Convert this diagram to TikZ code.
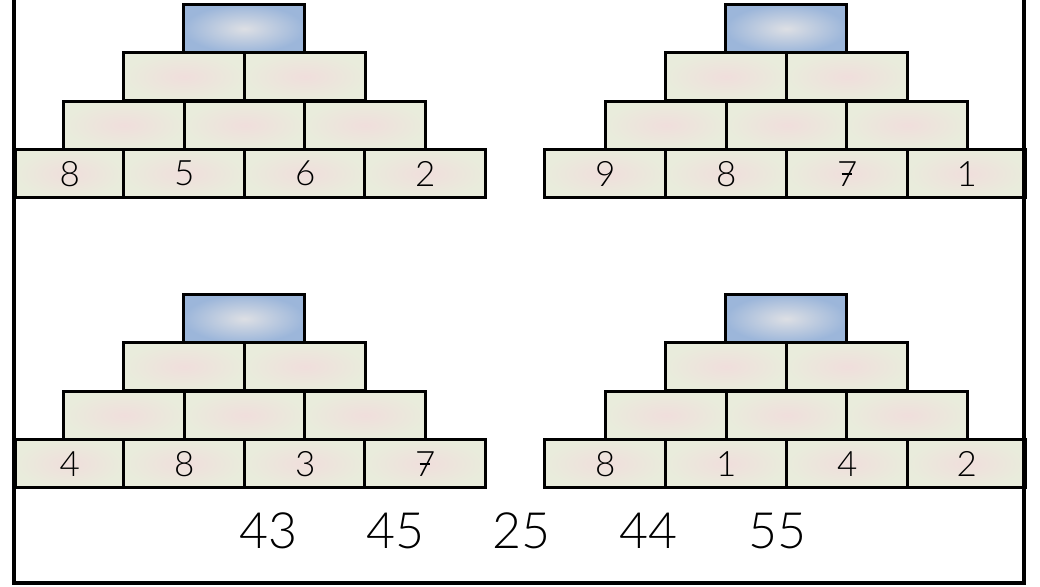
\documentclass[tikz,border=0pt]{standalone}
\usepackage{fontspec}
\setmainfont{Lato Light}
\newcommand\crossseven{\ooalign{7\cr\hidewidth\rule[0.33em]{0.3em}{0.04em}\hspace{0.02em}\hidewidth\cr}}
\definecolor{brickout}{HTML}{E9ECDC}
\definecolor{brickin}{HTML}{F0DEDC}
\definecolor{topout}{HTML}{9CB6DA}
\definecolor{topin}{HTML}{DDDFE4}
\tikzset{
  brick/.style={draw=black, line width=3.4pt, inner color=brickin, outer color=brickout,
    anchor=north west, minimum height=48pt, inner sep=0pt, font=\fontsize{35}{35}\selectfont},
  topbrick/.style={brick, inner color=topin, outer color=topout},
  frameline/.style={draw=black, line width=3.4pt},
  answer/.style={font=\fontsize{50}{50}\selectfont, inner sep=0pt}
}
\newcommand\pyramid[3]{%
  % #1 name prefix, #2 dx, #3 dy
  \begin{scope}[shift={(#2,#3)}]
    \node[topbrick, minimum width=121pt] (#1t) at (182,3) {};
    \node[brick, minimum width=121pt] (#1r3a) at (122,51) {};
    \node[brick, minimum width=121pt] (#1r3b) at (243,51) {};
    \node[brick, minimum width=121pt] (#1r2a) at (62,99.5) {};
    \node[brick, minimum width=121pt] (#1r2b) at (183,99.5) {};
    \node[brick, minimum width=121pt] (#1r2c) at (303,99.5) {};
  \end{scope}}
\begin{document}
\begin{tikzpicture}[x=1pt,y=-1pt]
\useasboundingbox (0,0) rectangle (1040,586);
\fill[white] (0,0) rectangle (1040,586);
% upper rows of the four pyramids
\pyramid{A}{0}{0}
\pyramid{B}{542}{0}
\pyramid{C}{0}{290}
\pyramid{D}{542}{290}
% bottom rows
\node[brick, minimum width=108pt] (A1) at (14,148) {8};
\node[brick, minimum width=121pt] (A2) at (122,148) {5};
\node[brick, minimum width=121pt] (A3) at (243,148) {6};
\node[brick, minimum width=121pt] (A4) at (363,148) {2};
\node[brick, minimum width=121pt] (B1) at (543,148) {9};
\node[brick, minimum width=121pt] (B2) at (664,148) {8};
\node[brick, minimum width=121pt] (B3) at (785,148) {\crossseven};
\node[brick, minimum width=118pt] (B4) at (906,148) {1};
\node[brick, minimum width=108pt] (C1) at (14,438) {4};
\node[brick, minimum width=121pt] (C2) at (122,438) {8};
\node[brick, minimum width=121pt] (C3) at (243,438) {3};
\node[brick, minimum width=121pt] (C4) at (363,438) {\crossseven};
\node[brick, minimum width=121pt] (D1) at (543,438) {8};
\node[brick, minimum width=121pt] (D2) at (664,438) {1};
\node[brick, minimum width=121pt] (D3) at (785,438) {4};
\node[brick, minimum width=118pt] (D4) at (906,438) {2};
% frame
\coordinate (f1) at (14,0);
\coordinate (f2) at (14,583);
\coordinate (f3) at (1024,583);
\coordinate (f4) at (1024,0);
\draw[frameline] (f1) -- (f2) -- (f3) -- (f4);
% answers
\node[answer] (n1) at (268,531) {43};
\node[answer] (n2) at (395,531) {45};
\node[answer] (n3) at (521,531) {25};
\node[answer] (n4) at (648,531) {44};
\node[answer] (n5) at (777,531) {55};
\end{tikzpicture}
\end{document}
